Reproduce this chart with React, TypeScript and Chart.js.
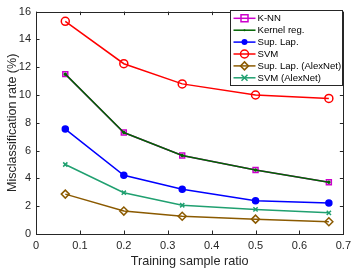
import React, { useEffect, useRef } from 'react';
import { Chart, registerables } from 'chart.js';
Chart.register(...registerables);

const ratios = [0.0667, 0.2, 0.333, 0.5, 0.667];
const knn = [11.5, 7.3, 5.65, 4.6, 3.72];
const kernelReg = [11.5, 7.3, 5.65, 4.6, 3.72];
const supLap = [7.55, 4.22, 3.22, 2.4, 2.23];
const svm = [15.3, 12.25, 10.8, 10.0, 9.75];
const supLapAlex = [2.87, 1.65, 1.28, 1.07, 0.88];
const svmAlex = [5.0, 2.97, 2.07, 1.77, 1.52];
const xTicks = [0, 0.1, 0.2, 0.3, 0.4, 0.5, 0.6, 0.7];
const yTicks = [0, 2, 4, 6, 8, 10, 12, 14, 16];

const seriesDefs = [
  { label: 'K-NN', data: knn, color: '#cc00cc', style: 'rect', radius: 3.5, fill: false },
  { label: 'Kernel reg.', data: kernelReg, color: '#006400', style: 'circle', radius: 1, fill: true },
  { label: 'Sup. Lap.', data: supLap, color: '#0000ff', style: 'circle', radius: 3, fill: true },
  { label: 'SVM', data: svm, color: '#ff0000', style: 'circle', radius: 4, fill: false },
  { label: 'Sup. Lap. (AlexNet)', data: supLapAlex, color: '#8b5a00', style: 'rectRot', radius: 4, fill: false },
  { label: 'SVM (AlexNet)', data: svmAlex, color: '#20a070', style: 'crossRot', radius: 3, fill: false },
];

const AXIS = '#262626';
const FONT = '"Liberation Sans", Arial, sans-serif';

function drawMarker(ctx: CanvasRenderingContext2D, s: any, x: number, y: number) {
  ctx.save();
  ctx.strokeStyle = s.color;
  ctx.fillStyle = s.color;
  ctx.lineWidth = 1.5;
  const r = s.radius;
  ctx.beginPath();
  if (s.style === 'circle') {
    ctx.arc(x, y, r, 0, Math.PI * 2);
    if (s.fill) ctx.fill(); else ctx.stroke();
  } else if (s.style === 'rect') {
    ctx.rect(x - r, y - r, 2 * r, 2 * r);
    ctx.stroke();
  } else if (s.style === 'rectRot') {
    ctx.moveTo(x, y - r); ctx.lineTo(x + r, y); ctx.lineTo(x, y + r); ctx.lineTo(x - r, y); ctx.closePath();
    ctx.stroke();
  } else if (s.style === 'crossRot') {
    ctx.moveTo(x - r, y - r); ctx.lineTo(x + r, y + r);
    ctx.moveTo(x + r, y - r); ctx.lineTo(x - r, y + r);
    ctx.stroke();
  }
  ctx.restore();
}

const boxPlugin = {
  id: 'boxPlugin',
  afterDraw(chart: any) {
    const { ctx, chartArea: a, scales } = chart;
    ctx.save();
    ctx.strokeStyle = AXIS;
    ctx.lineWidth = 1;
    ctx.strokeRect(Math.round(a.left) + 0.5, Math.round(a.top) + 0.5, Math.round(a.right - a.left), Math.round(a.bottom - a.top));
    ctx.beginPath();
    const tl = 3.5;
    xTicks.forEach((v) => {
      const px = Math.round(scales.x.getPixelForValue(v)) + 0.5;
      ctx.moveTo(px, a.bottom); ctx.lineTo(px, a.bottom - tl);
      ctx.moveTo(px, a.top); ctx.lineTo(px, a.top + tl);
    });
    yTicks.forEach((v) => {
      const py = Math.round(scales.y.getPixelForValue(v)) + 0.5;
      ctx.moveTo(a.left, py); ctx.lineTo(a.left + tl, py);
      ctx.moveTo(a.right, py); ctx.lineTo(a.right - tl, py);
    });
    ctx.stroke();

    // legend
    const lx = 230.5, ly = 10.5, lw = 112, lh = 75;
    ctx.fillStyle = '#ffffff';
    ctx.fillRect(lx, ly, lw, lh);
    ctx.strokeStyle = AXIS;
    ctx.strokeRect(lx, ly, lw, lh);
    ctx.font = '9.6px ' + FONT;
    ctx.textBaseline = 'middle';
    ctx.textAlign = 'left';
    seriesDefs.forEach((s, i) => {
      const y = 18.3 + i * 11.9;
      ctx.strokeStyle = s.color;
      ctx.lineWidth = 1.5;
      ctx.beginPath();
      ctx.moveTo(lx + 3, y); ctx.lineTo(lx + 25, y);
      ctx.stroke();
      drawMarker(ctx, s, lx + 14, y);
      ctx.fillStyle = '#000000';
      ctx.fillText(s.label, lx + 27, y + 0.5);
    });
    ctx.restore();
  },
};

export default function App() {
  const ref = useRef<HTMLCanvasElement>(null);
  useEffect(() => {
    if (!ref.current) return;
    const chart = new Chart(ref.current, {
      type: 'line',
      data: {
        datasets: seriesDefs.map((s, i) => ({
          label: s.label,
          order: 10 - i,
          data: s.data.map((v, j) => ({ x: ratios[j], y: v })),
          borderColor: s.color,
          backgroundColor: s.fill ? s.color : 'rgba(0,0,0,0)',
          pointBorderColor: s.color,
          pointBackgroundColor: s.fill ? s.color : 'rgba(0,0,0,0)',
          pointStyle: s.style as any,
          pointRadius: s.radius,
          pointBorderWidth: 1.5,
          borderWidth: 1.5,
          tension: 0,
        })),
      },
      options: {
        responsive: false,
        animation: false,
        layout: { padding: { top: 9, right: 12, left: 5, bottom: 0 } },
        plugins: { legend: { display: false }, tooltip: { enabled: false } },
        scales: {
          x: {
            type: 'linear',
            min: 0,
            max: 0.7,
            afterBuildTicks: (sc: any) => { sc.ticks = xTicks.map((v) => ({ value: v })); },
            afterFit: (sc: any) => { sc.height = 39; },
            grid: { display: false, drawTicks: false },
            border: { display: false },
            ticks: {
              color: AXIS,
              font: { family: FONT, size: 11 },
              padding: 5,
              maxRotation: 0,
              callback: (v: any) => String(Math.round(Number(v) * 10) / 10),
            },
            title: {
              display: true,
              text: 'Training sample ratio',
              color: AXIS,
              font: { family: FONT, size: 12.7 },
              padding: { top: 0, bottom: 3.4 },
            },
          },
          y: {
            type: 'linear',
            min: 0,
            max: 16,
            afterBuildTicks: (sc: any) => { sc.ticks = yTicks.map((v) => ({ value: v })); },
            afterFit: (sc: any) => { sc.width = 31; },
            grid: { display: false, drawTicks: false },
            border: { display: false },
            ticks: {
              color: AXIS,
              font: { family: FONT, size: 11 },
              padding: 5,
            },
            title: {
              display: true,
              text: 'Misclassification rate (%)',
              color: AXIS,
              font: { family: FONT, size: 12.5 },
              padding: { top: 0, bottom: 0 },
            },
          },
        },
      },
      plugins: [boxPlugin],
    });
    return () => chart.destroy();
  }, []);
  return (
    <div style={{ position: 'fixed', left: 0, top: 0, width: 356, height: 273, background: '#fff' }}>
      <canvas ref={ref} width={356} height={273} />
    </div>
  );
}
